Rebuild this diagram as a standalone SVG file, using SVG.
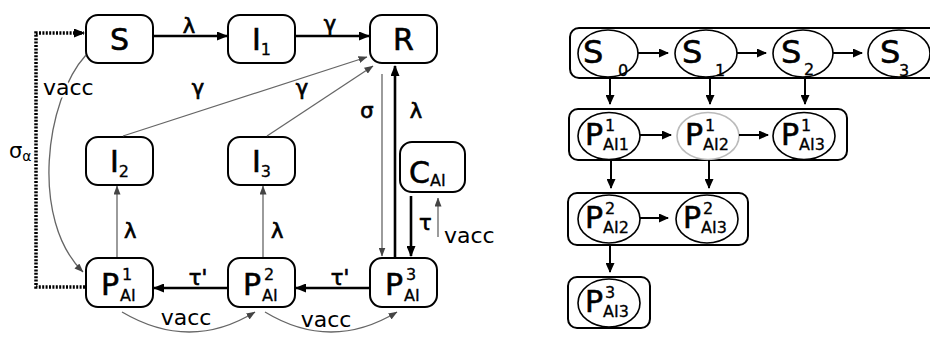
<svg xmlns="http://www.w3.org/2000/svg" width="930" height="337" viewBox="0 0 930 337">
<defs>
<style>
text{font-family:"DejaVu Sans",Verdana,sans-serif;fill:#000}
.box{fill:#fff;stroke:#000;stroke-width:2}
.cont{fill:none;stroke:#000;stroke-width:2}
.ell{fill:#fff;stroke:#000;stroke-width:1.6}
.big{font-size:30px;stroke:#000;stroke-width:0.6}
.sup{font-size:16px;stroke:#000;stroke-width:0.3}
.sub{font-size:16px;stroke:#000;stroke-width:0.3}
.lbl{font-size:21px;stroke:#000;stroke-width:0.7}
.vac{font-size:22px}
.thick{fill:none;stroke:#000;stroke-width:2.6}
.thin{fill:none;stroke:#666;stroke-width:1.3}
.dot{fill:none;stroke:#000;stroke-width:3.5;stroke-dasharray:2 1.4}
.rarr{fill:none;stroke:#000;stroke-width:2}
.halo{stroke:#fff;stroke-width:5;paint-order:stroke;stroke-linejoin:round}
</style>
<marker id="ak" markerUnits="userSpaceOnUse" markerWidth="11" markerHeight="9" refX="10" refY="4.5" orient="auto"><path d="M0,0 L11,4.5 L0,9 z" fill="#000"/></marker>
<marker id="ag" markerUnits="userSpaceOnUse" markerWidth="9" markerHeight="7" refX="8.5" refY="3.5" orient="auto"><path d="M0,0 L9,3.5 L0,7 z" fill="#444"/></marker>
<marker id="ar" markerUnits="userSpaceOnUse" markerWidth="10" markerHeight="9" refX="9" refY="4.5" orient="auto"><path d="M0,0 L10,4.5 L0,9 z" fill="#000"/></marker>
</defs>
<rect width="930" height="337" fill="#fff"/>

<g id="S"><rect class="box" x="86" y="15" width="67" height="48" rx="12"/><text class="big" x="119.5" y="50" text-anchor="middle">S</text></g>
<g id="I1"><rect class="box" x="228" y="15" width="67" height="48" rx="12"/><text class="big" x="261.5" y="50" text-anchor="middle">I<tspan class="sub" dy="5">1</tspan></text></g>
<g id="R"><rect class="box" x="370" y="15" width="67" height="48" rx="12"/><text class="big" x="403.5" y="50" text-anchor="middle">R</text></g>
<g id="I2"><rect class="box" x="86" y="137" width="67" height="48" rx="12"/><text class="big" x="119.5" y="172" text-anchor="middle">I<tspan class="sub" dy="5">2</tspan></text></g>
<g id="I3"><rect class="box" x="228" y="137" width="67" height="48" rx="12"/><text class="big" x="261.5" y="172" text-anchor="middle">I<tspan class="sub" dy="5">3</tspan></text></g>
<g id="CAI"><rect class="box" x="400" y="142" width="65" height="50" rx="12"/><text class="big" x="409" y="183">C</text><text class="sub" x="430" y="186">AI</text></g>
<g id="P1"><rect class="box" x="86" y="258" width="67" height="49" rx="12"/><text class="big" x="101" y="295">P</text><text class="sup" x="122" y="280">1</text><text class="sub" x="120" y="301">AI</text></g>
<g id="P2"><rect class="box" x="228" y="258" width="67" height="49" rx="12"/><text class="big" x="243" y="295">P</text><text class="sup" x="264" y="280">2</text><text class="sub" x="262" y="301">AI</text></g>
<g id="P3"><rect class="box" x="370" y="258" width="67" height="49" rx="12"/><text class="big" x="385" y="295">P</text><text class="sup" x="406" y="280">3</text><text class="sub" x="404" y="301">AI</text></g>

<g id="rowS">
<rect class="cont" x="570" y="28" width="380" height="50" rx="9"/>
<g id="S0"><ellipse class="ell" cx="608" cy="53.5" rx="30" ry="23.5"/><text class="big" x="583" y="63" style="font-size:32px">S</text><text class="sub" x="618" y="76">0</text></g>
<g id="S1"><ellipse class="ell" cx="706" cy="53.5" rx="31" ry="23.5"/><text class="big" x="682" y="63" style="font-size:32px">S</text><text class="sub" x="715" y="76">1</text></g>
<g id="S2"><ellipse class="ell" cx="803" cy="53.5" rx="30" ry="23.5"/><text class="big" x="781" y="63" style="font-size:32px">S</text><text class="sub" x="804" y="75">2</text></g>
<g id="S3"><ellipse class="ell" cx="899" cy="53.5" rx="31" ry="23.5"/><text class="big" x="880" y="63" style="font-size:32px">S</text><text class="sub" x="899" y="76">3</text></g>
</g>
<g id="row1">
<rect class="cont" x="569" y="109" width="278" height="51" rx="9"/>
<g id="P1AI1"><ellipse class="ell" cx="609" cy="136" rx="31" ry="23.5"/><text class="big" x="585" y="145">P</text><text class="sup" x="605" y="131">1</text><text class="sub" x="603" y="150">AI1</text></g>
<g id="P1AI2"><ellipse class="ell" cx="708" cy="136" rx="31" ry="23.5" style="stroke:#bbb"/><text class="big" x="685" y="145">P</text><text class="sup" x="705" y="131">1</text><text class="sub" x="703" y="150">AI2</text></g>
<g id="P1AI3"><ellipse class="ell" cx="804" cy="136" rx="31" ry="23.5"/><text class="big" x="781" y="145">P</text><text class="sup" x="801" y="131">1</text><text class="sub" x="799" y="150">AI3</text></g>
</g>
<g id="row2">
<rect class="cont" x="568" y="193" width="180" height="52" rx="9"/>
<g id="P2AI2"><ellipse class="ell" cx="609" cy="219" rx="31" ry="24"/><text class="big" x="585" y="228">P</text><text class="sup" x="605" y="214">2</text><text class="sub" x="603" y="233">AI2</text></g>
<g id="P2AI3"><ellipse class="ell" cx="707" cy="219" rx="31" ry="24"/><text class="big" x="683" y="228">P</text><text class="sup" x="703" y="214">2</text><text class="sub" x="701" y="233">AI3</text></g>
</g>
<g id="row3">
<rect class="cont" x="568" y="277" width="82" height="51" rx="9"/>
<g id="P3AI3"><ellipse class="ell" cx="609" cy="303" rx="31" ry="24"/><text class="big" x="585" y="312">P</text><text class="sup" x="605" y="298">3</text><text class="sub" x="603" y="317">AI3</text></g>
</g>

<g id="connectors">
<line class="thick" x1="153" y1="36" x2="227" y2="36" marker-end="url(#ak)"/>
<line class="thick" x1="295" y1="36" x2="369" y2="36" marker-end="url(#ak)"/>
<line class="thin" x1="123" y1="136" x2="367" y2="57" marker-end="url(#ag)"/>
<line class="thin" x1="267" y1="136" x2="373" y2="66" marker-end="url(#ag)"/>
<line class="thin" x1="382" y1="74" x2="382" y2="256" marker-end="url(#ag)"/>
<line class="thick" x1="395" y1="257" x2="395" y2="66" marker-end="url(#ak)"/>
<line class="thick" x1="411" y1="196" x2="411" y2="256" marker-end="url(#ak)"/>
<line class="thin" x1="438" y1="237" x2="438" y2="198" marker-end="url(#ag)"/>
<line class="thin" x1="117" y1="257" x2="117" y2="186" marker-end="url(#ag)"/>
<line class="thin" x1="263" y1="257" x2="263" y2="186" marker-end="url(#ag)"/>
<line class="thick" x1="228" y1="288" x2="154" y2="288" marker-end="url(#ak)"/>
<line class="thick" x1="370" y1="288" x2="296" y2="288" marker-end="url(#ak)"/>
<path class="thin" d="M122,312 Q190,352 255,312" marker-end="url(#ag)"/>
<path class="thin" d="M265,312 Q331,352 397,312" marker-end="url(#ag)"/>
<path class="thin" d="M86,55 C45,100 30,220 83,272" marker-end="url(#ag)"/>
<path class="dot" d="M85,287 H36 V33 H84" marker-end="url(#ak)"/>

<line class="rarr" x1="638" y1="53" x2="668" y2="53" marker-end="url(#ar)"/>
<line class="rarr" x1="737" y1="53" x2="766" y2="53" marker-end="url(#ar)"/>
<line class="rarr" x1="833" y1="53" x2="862" y2="53" marker-end="url(#ar)"/>
<line class="rarr" x1="610" y1="78" x2="610" y2="104" marker-end="url(#ar)"/>
<line class="rarr" x1="710" y1="78" x2="710" y2="104" marker-end="url(#ar)"/>
<line class="rarr" x1="805" y1="78" x2="805" y2="104" marker-end="url(#ar)"/>
<line class="rarr" x1="640" y1="135" x2="671" y2="135" marker-end="url(#ar)"/>
<line class="rarr" x1="739" y1="135" x2="768" y2="135" marker-end="url(#ar)"/>
<line class="rarr" x1="611" y1="160" x2="611" y2="188" marker-end="url(#ar)"/>
<line class="rarr" x1="709" y1="160" x2="709" y2="188" marker-end="url(#ar)"/>
<line class="rarr" x1="640" y1="218" x2="668" y2="218" marker-end="url(#ar)"/>
<line class="rarr" x1="610" y1="245" x2="610" y2="272" marker-end="url(#ar)"/>

<text class="lbl" x="189" y="33" text-anchor="middle">λ</text>
<text class="lbl" x="330" y="31" text-anchor="middle">γ</text>
<text class="lbl" x="198" y="95" text-anchor="middle">γ</text>
<text class="lbl" x="302" y="95" text-anchor="middle">γ</text>
<text class="lbl" x="367" y="118" text-anchor="middle">σ</text>
<text class="lbl" x="416" y="118" text-anchor="middle">λ</text>
<text class="lbl" x="419" y="230">τ</text>
<text class="vac" x="444" y="243">vacc</text>
<text class="lbl" x="124" y="238">λ</text>
<text class="lbl" x="271" y="238">λ</text>
<text class="lbl" x="198" y="285" text-anchor="middle">τ'</text>
<text class="lbl" x="340" y="285" text-anchor="middle">τ'</text>
<text class="vac" x="186" y="325" text-anchor="middle">vacc</text>
<text class="vac" x="326" y="327" text-anchor="middle">vacc</text>
<text class="vac halo" x="43" y="95">vacc</text>
<text class="lbl halo" x="9" y="158" style="stroke:#fff">σ<tspan font-size="14" dy="3">α</tspan></text>
</g>
</svg>
